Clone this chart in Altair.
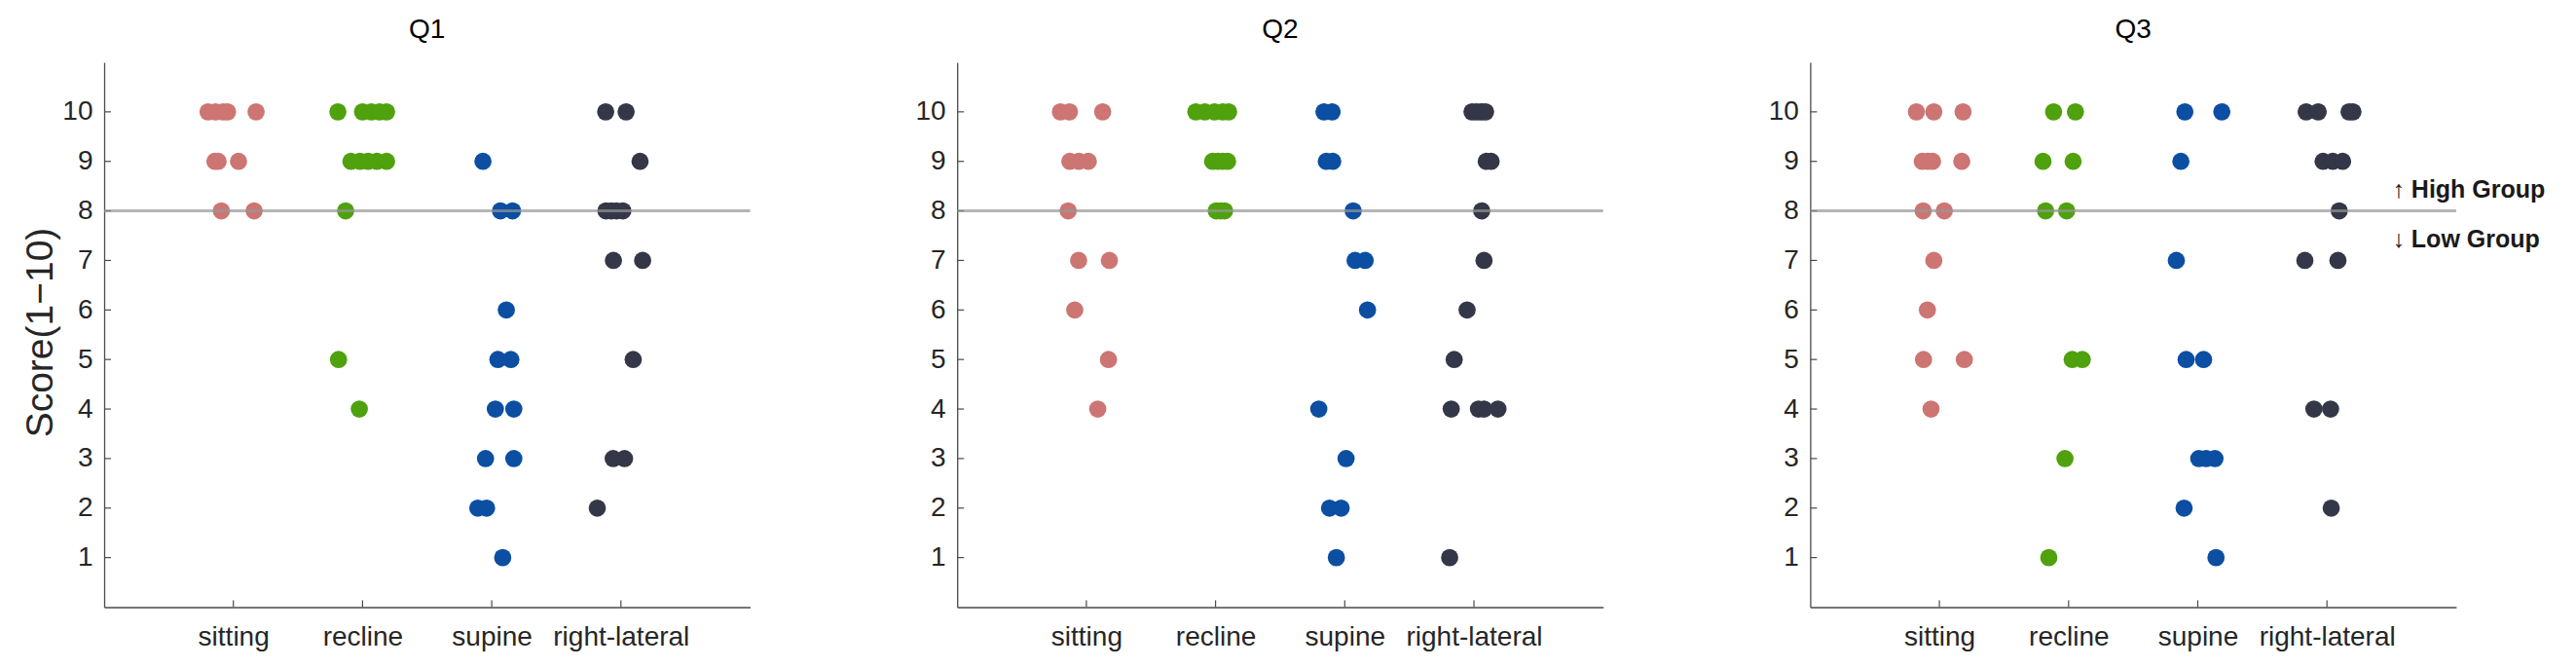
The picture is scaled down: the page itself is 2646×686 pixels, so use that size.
import json
import altair as alt
import pandas as pd

CATEGORIES = ["sitting", "recline", "supine", "right-lateral"]
COLORS = ["#CC7572", "#4FA10E", "#0B4EA2", "#333747"]
QUESTIONS = ["Q1", "Q2", "Q3"]
Y_TICKS = list(range(1, 11))
X_TICKS = [1, 2, 3, 4]
THRESHOLD = 8
ANNOTATIONS = ["\u2191 High Group", "\u2193 Low Group"]
Y_TITLE = "Score(1\u221210)"

# ---- Q1 (score, horizontal jitter in category units) ----
q1_sitting_y = [10, 10, 10, 10, 10, 9, 9, 9, 8, 8]
q1_sitting_dx = [-0.196, -0.138, -0.080, -0.045, 0.176, -0.143, -0.118, 0.040, -0.093, 0.161]
q1_recline_y = [10, 10, 10, 10, 10, 9, 9, 9, 9, 9, 8, 5, 4]
q1_recline_dx = [-0.191, 0.0, 0.068, 0.131, 0.186, -0.090, -0.020, 0.043, 0.111, 0.186, -0.131, -0.186, -0.025]
q1_supine_y = [9, 8, 8, 6, 5, 5, 4, 4, 3, 3, 2, 2, 1]
q1_supine_dx = [-0.068, 0.068, 0.161, 0.113, 0.048, 0.148, 0.028, 0.171, -0.048, 0.171, -0.108, -0.040, 0.085]
q1_rlat_y = [10, 10, 9, 8, 8, 8, 8, 7, 7, 5, 3, 3, 2]
q1_rlat_dx = [-0.118, 0.040, 0.148, -0.116, -0.075, -0.035, 0.015, -0.058, 0.168, 0.095, -0.060, 0.028, -0.183]

# ---- Q2 ----
q2_sitting_y = [10, 10, 10, 9, 9, 9, 8, 7, 7, 6, 5, 4]
q2_sitting_dx = [-0.201, -0.131, 0.126, -0.128, -0.058, 0.015, -0.141, -0.060, 0.178, -0.090, 0.171, 0.088]
q2_recline_y = [10, 10, 10, 10, 10, 9, 9, 9, 9, 8, 8, 8]
q2_recline_dx = [-0.153, -0.083, -0.008, 0.055, 0.101, -0.023, 0.018, 0.055, 0.093, 0.005, 0.038, 0.070]
q2_supine_y = [10, 10, 9, 9, 8, 7, 7, 6, 4, 3, 2, 2, 1]
q2_supine_dx = [-0.161, -0.098, -0.143, -0.093, 0.065, 0.080, 0.158, 0.176, -0.201, 0.010, -0.118, -0.028, -0.065]
q2_rlat_y = [10, 10, 10, 10, 9, 9, 8, 7, 6, 5, 4, 4, 4, 4, 1]
q2_rlat_dx = [-0.015, 0.020, 0.055, 0.090, 0.095, 0.133, 0.060, 0.078, -0.053, -0.153, -0.176, 0.035, 0.078, 0.186, -0.188]

# ---- Q3 ----
q3_sitting_y = [10, 10, 10, 9, 9, 9, 9, 8, 8, 7, 6, 5, 5, 4]
q3_sitting_dx = [-0.178, -0.043, 0.183, -0.133, -0.090, -0.053, 0.173, -0.126, 0.038, -0.043, -0.093, -0.123, 0.193, -0.065]
q3_recline_y = [10, 10, 9, 9, 8, 8, 5, 5, 3, 1]
q3_recline_dx = [-0.116, 0.053, -0.198, 0.035, -0.178, -0.015, 0.028, 0.106, -0.028, -0.153]
q3_supine_y = [10, 10, 9, 7, 5, 5, 3, 3, 3, 2, 1]
q3_supine_dx = [-0.100, 0.186, -0.131, -0.166, -0.090, 0.045, 0.008, 0.065, 0.133, -0.106, 0.141]
q3_rlat_y = [10, 10, 10, 10, 9, 9, 9, 8, 7, 7, 4, 4, 2]
q3_rlat_dx = [-0.161, -0.068, 0.171, 0.201, -0.030, 0.045, 0.121, 0.095, -0.171, 0.085, -0.101, 0.028, 0.033]

SERIES = {
    "Q1": [(q1_sitting_y, q1_sitting_dx), (q1_recline_y, q1_recline_dx),
           (q1_supine_y, q1_supine_dx), (q1_rlat_y, q1_rlat_dx)],
    "Q2": [(q2_sitting_y, q2_sitting_dx), (q2_recline_y, q2_recline_dx),
           (q2_supine_y, q2_supine_dx), (q2_rlat_y, q2_rlat_dx)],
    "Q3": [(q3_sitting_y, q3_sitting_dx), (q3_recline_y, q3_recline_dx),
           (q3_supine_y, q3_supine_dx), (q3_rlat_y, q3_rlat_dx)],
}

rows = []
for q in QUESTIONS:
    for ci, (ys, dxs) in enumerate(SERIES[q]):
        for y, dx in zip(ys, dxs):
            rows.append({"question": q, "group": CATEGORIES[ci], "score": y, "x": ci + 1 + dx})
df = pd.DataFrame(rows)

W, H = 663.5, 559.5
FONT = "Liberation Sans"
AXIS_COLOR = "#4A4A4A"
TEXT_COLOR = "#262626"

xscale = alt.Scale(domain=[0, 5], nice=False, zero=False)
yscale = alt.Scale(domain=[0, 11], nice=False, zero=False)
label_expr = "%s[datum.value]" % json.dumps([""] + CATEGORIES)


def panel(q, first, last):
    xaxis = alt.Axis(values=X_TICKS, labelExpr=label_expr, title=None,
                     ticks=False, tickSize=0, grid=False, labelPadding=17,
                     labelFontSize=28, labelFont=FONT, labelColor=TEXT_COLOR,
                     domainColor=AXIS_COLOR, domainWidth=1.3)
    yaxis = alt.Axis(values=Y_TICKS, title=Y_TITLE if first else None,
                     ticks=False, tickSize=0, grid=False, labelPadding=12,
                     labelFontSize=28, labelFont=FONT, labelColor=TEXT_COLOR,
                     domainColor=AXIS_COLOR, domainWidth=1.3,
                     titleFont=FONT, titleFontSize=39, titleFontWeight="normal",
                     titleColor=TEXT_COLOR, titleAngle=270, titleX=-66, titleY=277,
                     titleAlign="center", titleBaseline="middle")
    ytitle = Y_TITLE if first else None
    pts = alt.Chart(df[df.question == q]).mark_circle(size=314, opacity=1).encode(
        x=alt.X("x:Q", scale=xscale, axis=xaxis, title=None),
        y=alt.Y("score:Q", scale=yscale, axis=yaxis, title=ytitle),
        color=alt.Color("group:N", scale=alt.Scale(domain=CATEGORIES, range=COLORS), legend=None),
    )
    ytk = alt.Chart(pd.DataFrame({"score": Y_TICKS})).mark_rule(color=AXIS_COLOR, strokeWidth=1.2).encode(
        y=alt.Y("score:Q", scale=yscale, axis=yaxis, title=ytitle),
        x=alt.value(0), x2=alt.value(7))
    xtk = alt.Chart(pd.DataFrame({"x": X_TICKS})).mark_rule(color=AXIS_COLOR, strokeWidth=1.2).encode(
        x=alt.X("x:Q", scale=xscale, axis=xaxis, title=None), y=alt.value(H), y2=alt.value(H - 7))
    thr = alt.Chart(pd.DataFrame({"score": [THRESHOLD]})).mark_rule(
        color="#959595", opacity=0.7, strokeWidth=3).encode(
        y=alt.Y("score:Q", scale=yscale, axis=yaxis, title=ytitle),
        x=alt.value(0), x2=alt.value(W))
    layers = [pts, ytk, xtk, thr]
    if last:
        for lab, dy in [(ANNOTATIONS[0], -13.4), (ANNOTATIONS[1], 37.3)]:
            layers.append(alt.Chart(pd.DataFrame({"score": [THRESHOLD], "lab": [lab]})).mark_text(
                align="left", baseline="alphabetic", dy=dy, fontSize=25, fontWeight="bold",
                font=FONT, color="#1A1A1A").encode(
                y=alt.Y("score:Q", scale=yscale, axis=yaxis, title=ytitle),
                x=alt.value(598), text="lab:N"))
    return alt.layer(*layers).properties(
        width=W, height=H,
        title=alt.TitleParams(q, fontSize=28, fontWeight="normal", font=FONT, color="#000000",
                              offset=-2.5, baseline="alphabetic", anchor="middle"))


chart = alt.hconcat(
    panel("Q1", True, False), panel("Q2", False, False), panel("Q3", False, True),
    spacing=212.2, bounds="flush",
).configure_view(stroke=None).properties(
    padding={"left": 14, "top": 8, "right": 5, "bottom": 5},
    background="white",
)

chart.save("out.html", embed_options={"renderer": "svg", "actions": False})
